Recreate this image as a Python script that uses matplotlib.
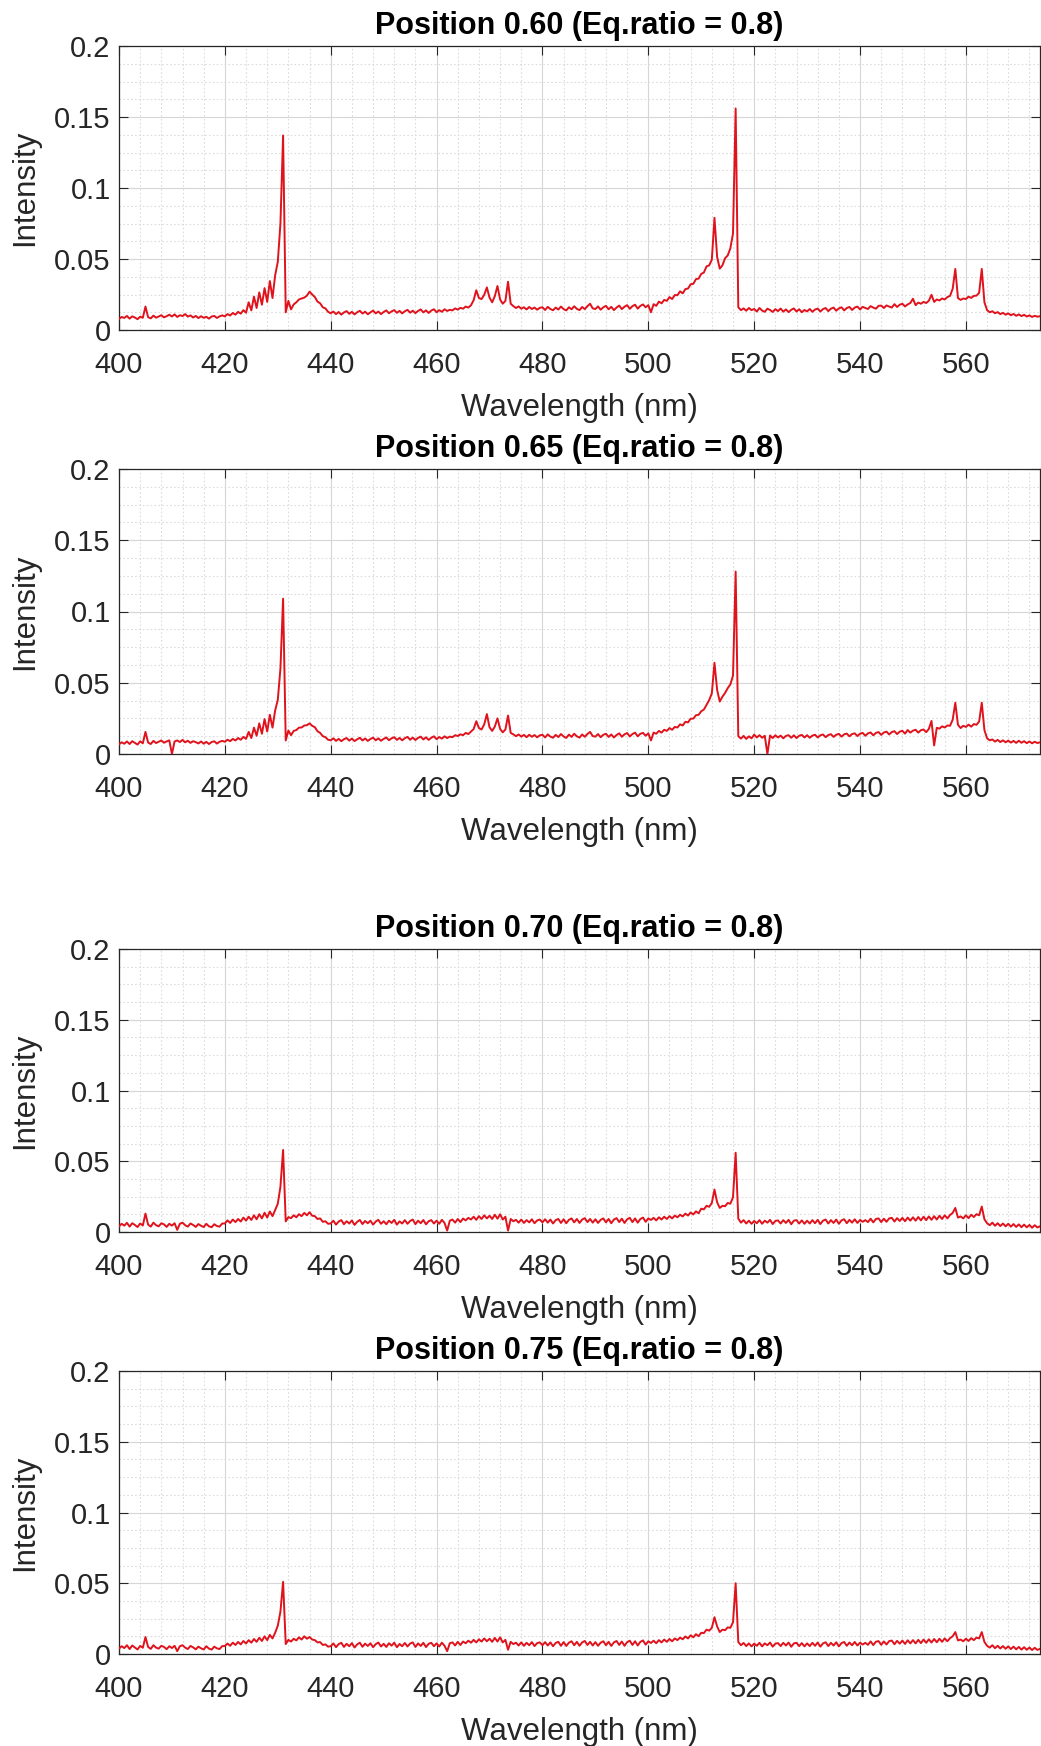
import numpy as np
import matplotlib
matplotlib.use("Agg")
import matplotlib.pyplot as plt
from matplotlib.ticker import MultipleLocator, FuncFormatter

plt.rcParams['font.family'] = ['Liberation Sans', 'DejaVu Sans']

# Emission spectra sampled every 0.5 nm from 400 nm; intensities in units of 1e-4
WL_START, WL_STEP = 400.0, 0.5
INTENSITY_UNIT = 1e-4

pos_060 = [
    78, 92, 85, 99, 80, 96, 88, 76, 94, 86, 165, 90, 82, 101, 87, 95, 104, 89, 97, 108,          # 400
    95, 110, 92, 104, 98, 112, 94, 103, 88, 99, 84, 97, 86, 93, 80, 95, 99, 85, 96, 103,         # 410
    96, 112, 102, 120, 108, 128, 115, 140, 122, 195, 138, 235, 155, 265, 178, 295, 198, 345, 225, 385,  # 420
    480, 750, 1370, 125, 205, 145, 180, 195, 215, 222, 228, 242, 270, 250, 232, 200, 188, 160, 152, 128,  # 430
    118, 130, 112, 127, 108, 124, 133, 114, 128, 110, 125, 135, 116, 129, 111, 124, 137, 117, 130, 112,  # 440
    127, 138, 118, 131, 140, 121, 135, 117, 132, 142, 122, 136, 119, 134, 145, 124, 138, 120, 137, 146,  # 450
    125, 140, 128, 146, 134, 142, 138, 152, 144, 156, 150, 165, 158, 174, 210, 280, 225, 218, 248, 300,  # 460
    228, 195, 238, 310, 215, 185, 205, 340, 185, 168, 155, 166, 150, 160, 145, 162, 148, 158, 143, 156,  # 470
    160, 141, 163, 148, 139, 158, 144, 165, 147, 138, 160, 146, 167, 149, 140, 162, 147, 168, 185, 152,  # 480
    148, 166, 143, 160, 170, 146, 163, 140, 158, 172, 147, 164, 175, 149, 168, 178, 150, 170, 180, 160,  # 490
    175, 125, 182, 170, 200, 188, 212, 205, 232, 218, 246, 245, 272, 258, 288, 292, 322, 325, 358, 362,  # 500
    395, 405, 448, 455, 495, 790, 515, 432, 455, 505, 525, 575, 680, 1560, 160, 140, 152, 136, 155, 140,  # 510
    148, 130, 155, 137, 128, 150, 141, 127, 147, 133, 151, 129, 145, 126, 142, 152, 130, 146, 125, 141,  # 520
    131, 148, 128, 144, 151, 130, 147, 155, 133, 150, 158, 136, 152, 160, 138, 155, 162, 141, 158, 165,  # 530
    145, 163, 155, 148, 168, 158, 150, 170, 172, 155, 173, 165, 158, 182, 162, 178, 185, 166, 180, 190,  # 540
    220, 175, 193, 185, 198, 190, 206, 248, 198, 215, 208, 222, 215, 232, 240, 290, 430, 225, 212, 222,  # 550
    218, 235, 226, 240, 242, 262, 430, 195, 140, 125, 132, 118, 126, 112, 121, 108, 117, 104, 113, 100,  # 560
    110, 98, 107, 95, 103, 92, 100, 94, 97,                                                               # 570
]

pos_065 = [
    68, 82, 72, 88, 70, 90, 78, 66, 89, 75, 155, 80, 70, 92, 77, 86, 95, 79, 88, 96,
    0, 88, 95, 84, 99, 82, 93, 78, 90, 83, 74, 88, 72, 85, 70, 84, 89, 73, 86, 92,
    86, 100, 90, 106, 95, 112, 100, 120, 106, 155, 112, 185, 128, 215, 142, 245, 158, 275, 185, 305,
    380, 600, 1090, 95, 165, 132, 162, 168, 185, 186, 200, 202, 215, 198, 188, 160, 148, 125, 118, 100,
    96, 110, 92, 106, 90, 104, 112, 94, 108, 91, 103, 114, 95, 109, 92, 105, 115, 96, 110, 93,
    106, 116, 97, 110, 118, 99, 113, 96, 111, 120, 100, 115, 98, 113, 122, 102, 117, 99, 114, 124,
    104, 119, 108, 124, 112, 122, 118, 132, 126, 138, 132, 148, 140, 158, 175, 230, 182, 172, 208, 280,
    188, 162, 192, 250, 176, 152, 172, 270, 148, 138, 125, 137, 122, 134, 118, 135, 121, 133, 117, 131,
    135, 116, 138, 122, 114, 134, 119, 140, 123, 113, 136, 120, 142, 124, 115, 137, 121, 140, 155, 126,
    122, 140, 118, 135, 142, 120, 137, 116, 133, 145, 121, 138, 147, 123, 140, 150, 124, 142, 148, 128,
    145, 95, 150, 142, 162, 150, 170, 162, 182, 170, 190, 186, 208, 200, 226, 222, 248, 248, 272, 275,
    300, 312, 345, 378, 425, 640, 450, 368, 402, 428, 462, 488, 550, 1280, 125, 108, 127, 106, 124, 110,
    136, 116, 132, 114, 128, 0, 130, 112, 131, 116, 129, 110, 127, 132, 114, 131, 112, 128, 134, 116,
    132, 114, 129, 135, 116, 131, 137, 118, 133, 139, 120, 135, 141, 122, 138, 143, 124, 140, 145, 126,
    142, 148, 128, 145, 151, 131, 148, 154, 134, 151, 157, 137, 154, 160, 140, 157, 163, 143, 168, 150,
    164, 170, 150, 167, 172, 153, 176, 232, 60, 184, 178, 194, 186, 200, 198, 240, 360, 205, 182, 198,
    190, 206, 192, 210, 205, 228, 360, 168, 110, 96, 102, 87, 99, 84, 96, 82, 94, 80, 92, 78,
    93, 79, 90, 76, 88, 75, 86, 77, 82,
]

pos_070 = [
    40, 58, 45, 65, 38, 62, 50, 35, 60, 46, 130, 52, 38, 66, 48, 40, 62, 54, 36, 58,
    45, 62, 15, 58, 66, 48, 38, 60, 50, 36, 56, 44, 35, 58, 40, 34, 55, 42, 38, 60,
    60, 82, 64, 88, 70, 92, 74, 102, 80, 108, 85, 118, 90, 126, 96, 136, 102, 145, 112, 155,
    200, 320, 580, 75, 105, 98, 118, 104, 126, 112, 135, 118, 140, 115, 112, 92, 96, 72, 76, 58,
    60, 80, 52, 74, 84, 55, 76, 60, 82, 50, 72, 85, 56, 78, 62, 80, 52, 74, 86, 58,
    76, 55, 80, 64, 86, 52, 75, 60, 84, 58, 78, 88, 55, 80, 62, 85, 54, 76, 84, 60,
    80, 58, 86, 64, 10, 80, 88, 66, 92, 70, 95, 82, 100, 88, 108, 86, 112, 92, 118, 96,
    115, 92, 122, 94, 125, 88, 108, 10, 92, 76, 86, 66, 88, 64, 84, 68, 90, 62, 82, 88,
    68, 90, 66, 88, 60, 84, 92, 64, 90, 62, 86, 96, 68, 92, 64, 88, 98, 70, 92, 66,
    90, 64, 86, 96, 68, 92, 62, 88, 98, 70, 94, 64, 90, 100, 70, 96, 66, 92, 102, 72,
    96, 85, 100, 82, 104, 88, 108, 92, 112, 96, 116, 104, 122, 110, 130, 116, 138, 124, 146, 132,
    165, 160, 185, 178, 205, 300, 210, 170, 185, 182, 205, 200, 245, 560, 95, 66, 84, 60, 80, 58,
    78, 62, 84, 58, 80, 66, 86, 56, 78, 82, 60, 84, 64, 86, 55, 80, 84, 60, 82, 58,
    80, 60, 84, 62, 86, 56, 80, 88, 60, 84, 64, 88, 58, 82, 90, 62, 86, 66, 90, 64,
    85, 72, 84, 70, 94, 68, 92, 96, 70, 94, 72, 96, 100, 74, 98, 78, 100, 76, 102, 80,
    104, 80, 106, 82, 108, 84, 110, 86, 112, 88, 115, 92, 118, 96, 120, 135, 170, 102, 110, 96,
    118, 98, 122, 106, 126, 118, 180, 90, 62, 48, 66, 44, 62, 42, 60, 40, 58, 38, 56, 36,
    54, 34, 52, 33, 50, 30, 48, 32, 40,
]

pos_075 = [
    38, 55, 42, 62, 35, 60, 46, 32, 57, 44, 120, 50, 36, 62, 45, 38, 58, 50, 34, 55,
    42, 58, 20, 55, 62, 45, 35, 57, 47, 33, 52, 40, 32, 55, 38, 31, 52, 40, 35, 56,
    56, 74, 58, 80, 64, 85, 68, 92, 74, 98, 80, 106, 86, 115, 92, 125, 98, 135, 110, 150,
    200, 300, 510, 70, 100, 88, 108, 96, 118, 102, 125, 108, 120, 102, 98, 82, 84, 64, 68, 52,
    55, 75, 48, 70, 79, 50, 72, 55, 77, 46, 68, 80, 51, 73, 57, 76, 48, 70, 81, 53,
    72, 50, 76, 59, 80, 48, 71, 55, 78, 53, 74, 82, 50, 75, 57, 79, 49, 72, 79, 55,
    75, 53, 80, 58, 20, 76, 82, 60, 86, 64, 88, 76, 94, 80, 100, 82, 104, 88, 110, 90,
    108, 86, 114, 88, 118, 82, 100, 30, 86, 70, 80, 60, 82, 58, 79, 62, 84, 56, 77, 82,
    62, 84, 60, 82, 55, 78, 86, 58, 84, 57, 80, 90, 62, 86, 58, 82, 92, 64, 86, 60,
    84, 58, 80, 90, 62, 86, 57, 82, 92, 64, 88, 58, 84, 94, 64, 90, 60, 86, 96, 66,
    90, 78, 94, 76, 98, 82, 102, 86, 106, 90, 110, 98, 116, 104, 124, 110, 132, 118, 140, 126,
    150, 148, 172, 165, 185, 260, 195, 155, 172, 168, 188, 185, 225, 500, 85, 62, 78, 56, 75, 54,
    73, 58, 79, 54, 75, 62, 81, 52, 73, 77, 56, 79, 60, 81, 51, 75, 79, 56, 77, 54,
    75, 56, 79, 58, 81, 52, 75, 83, 56, 79, 60, 83, 54, 77, 85, 58, 81, 62, 85, 60,
    80, 67, 79, 65, 89, 63, 87, 91, 65, 89, 67, 91, 95, 69, 93, 73, 95, 71, 97, 75,
    98, 75, 100, 77, 102, 79, 104, 81, 106, 83, 108, 86, 110, 90, 112, 125, 155, 96, 102, 90,
    108, 92, 112, 98, 116, 110, 155, 85, 58, 45, 62, 41, 58, 39, 56, 37, 54, 35, 52, 33,
    50, 31, 48, 30, 46, 28, 44, 29, 36,
]

positions = ["0.60", "0.65", "0.70", "0.75"]
spectra = [pos_060, pos_065, pos_070, pos_075]
eq_ratio = "0.8"
x_ticks = [400, 420, 440, 460, 480, 500, 520, 540, 560]
y_ticks = [0, 0.05, 0.1, 0.15, 0.2]

# ---- layout (pixel coordinates of a 1041 x 1746 canvas) ----
W, H = 1041, 1746
LEFT, RIGHT = 119, 1040
panel_rows = [(46, 330), (469, 754), (949, 1232), (1371, 1654)]

INK = '#262626'
LINE_RED = '#e0121c'

fig = plt.figure(figsize=(W / 100, H / 100), dpi=100)

for (top, bot), pos, vals in zip(panel_rows, positions, spectra):
    ax = fig.add_axes([LEFT / W, 1 - bot / H, (RIGHT - LEFT) / W, (bot - top) / H])
    y = np.asarray(vals, dtype=float) * INTENSITY_UNIT
    wl = WL_START + WL_STEP * np.arange(len(y))
    ax.plot(wl, y, color=LINE_RED, lw=1.4, zorder=3)

    ax.set_xlim(400, 574)
    ax.set_ylim(0, 0.2)
    ax.set_xticks(x_ticks)
    ax.set_yticks(y_ticks)
    ax.yaxis.set_major_formatter(FuncFormatter(lambda v, _: f"{v:g}"))
    ax.xaxis.set_minor_locator(MultipleLocator(4))
    ax.yaxis.set_minor_locator(MultipleLocator(0.0125))

    ax.set_axisbelow(True)
    ax.grid(which='major', color='#d6d6d6', lw=0.8, ls='-')
    ax.grid(which='minor', color='#dcdcdc', lw=0.8, ls=(0, (1.5, 2)))

    ax.tick_params(which='major', direction='in', length=6.5, width=0.8,
                   top=True, right=True, colors=INK, labelsize=21)
    ax.tick_params(axis='x', which='major', pad=15)
    ax.tick_params(axis='y', which='major', pad=6)
    ax.tick_params(which='minor', length=0, top=True, right=True)
    for sp in ax.spines.values():
        sp.set_color(INK)
        sp.set_linewidth(0.9)

    ax.set_title(f"Position {pos} (Eq.ratio = {eq_ratio})", fontsize=22,
                 fontweight='bold', color='black', pad=8.5)
    ax.set_xlabel("Wavelength (nm)", fontsize=22.5, color=INK, labelpad=10)
    ax.set_ylabel("Intensity", fontsize=22.5, color=INK, labelpad=10)

fig.savefig("out.png", dpi=100)
